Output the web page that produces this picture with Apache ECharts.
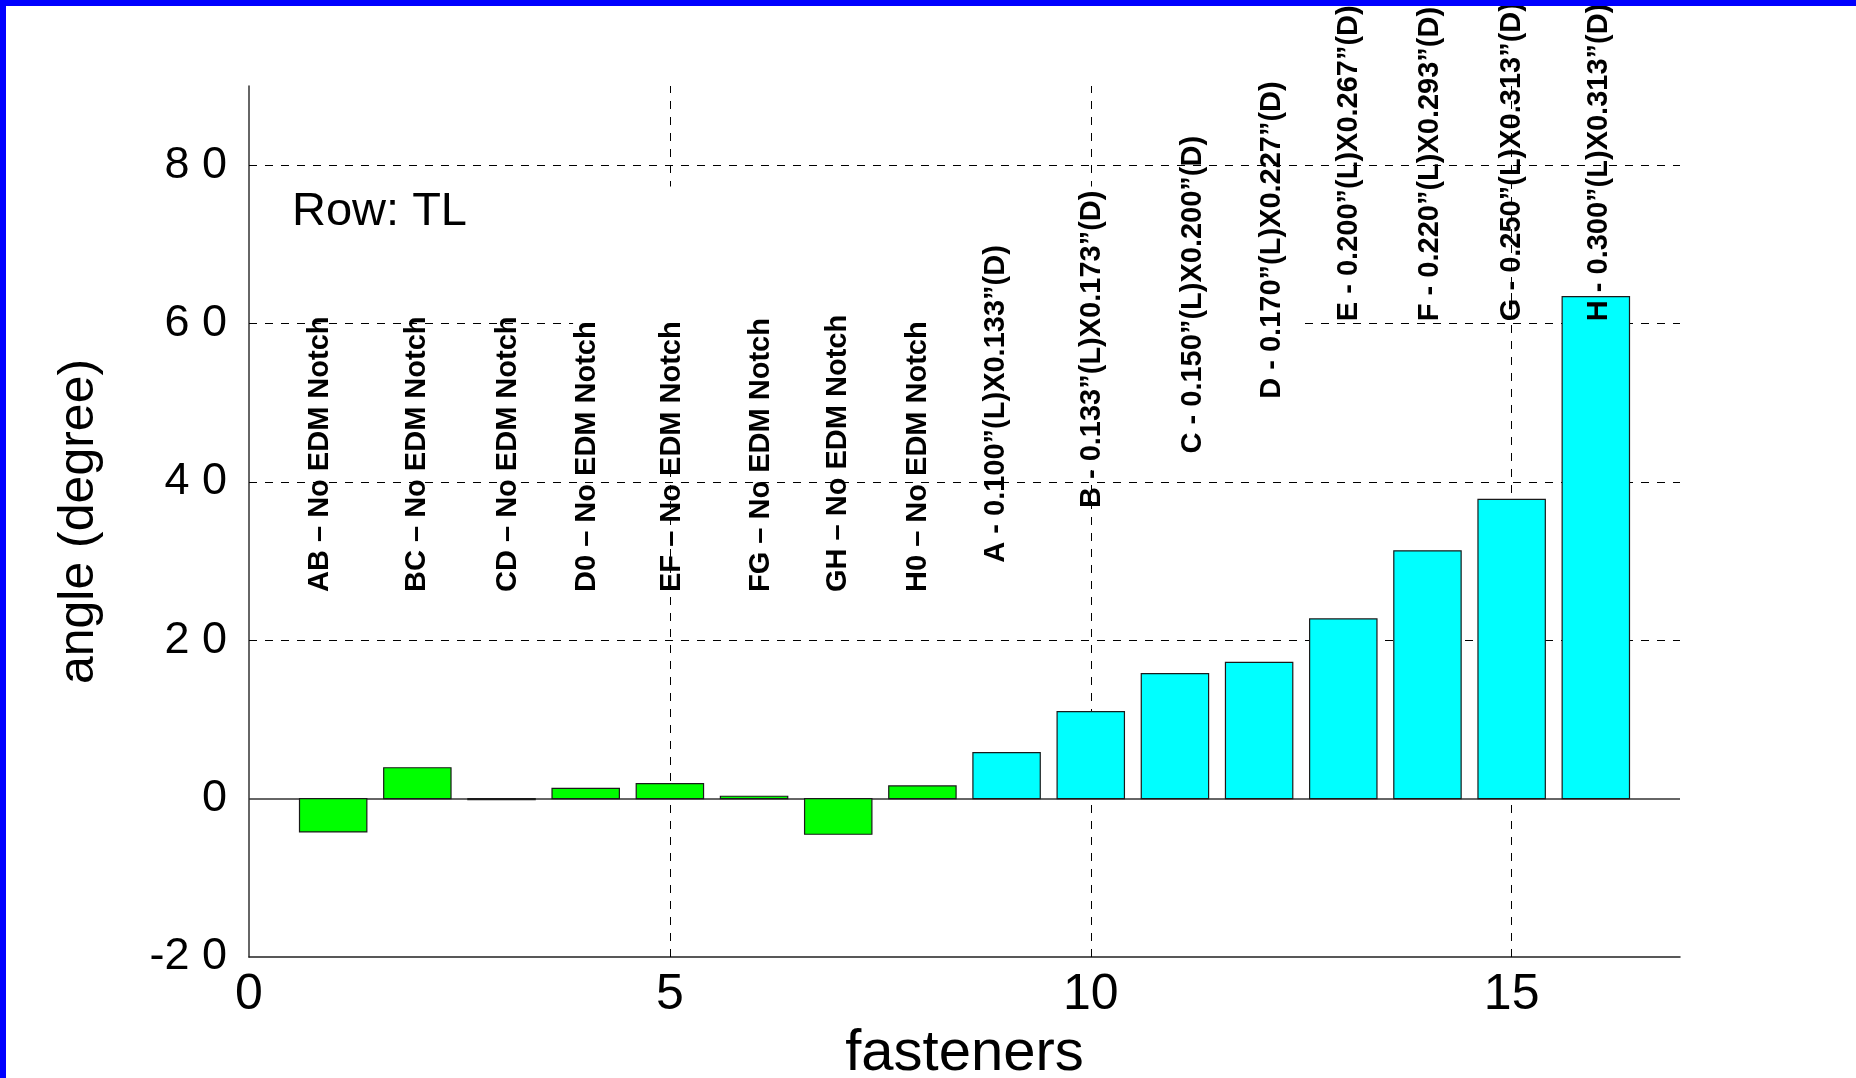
<!DOCTYPE html>
<html>
<head>
<meta charset="utf-8">
<script src="https://cdn.jsdelivr.net/npm/echarts@6/dist/echarts.min.js"></script>
<style>
html,body{margin:0;padding:0;background:#ffffff;}
#chart{width:1856px;height:1078px;}
</style>
</head>
<body>
<div id="chart"></div>
<script>
// ---------------- data ----------------
const fastenerX = [1, 2, 3, 4, 5, 6, 7, 8, 9, 10, 11, 12, 13, 14, 15, 16];
const angles = [-4.2, 3.9, -0.1, 1.3, 1.9, 0.3, -4.5, 1.6, 5.8, 11.0, 15.8, 17.2, 22.7, 31.3, 37.8, 63.4];
const notched = [0, 0, 0, 0, 0, 0, 0, 0, 1, 1, 1, 1, 1, 1, 1, 1];
const barLabels = [
  'AB \u2013 No EDM Notch', 'BC \u2013 No EDM Notch', 'CD \u2013 No EDM Notch', 'D0 \u2013 No EDM Notch',
  'EF \u2013 No EDM Notch', 'FG \u2013 No EDM Notch', 'GH \u2013 No EDM Notch', 'H0 \u2013 No EDM Notch',
  'A - 0.100\u201d(L)X0.133\u201d(D)', 'B - 0.133\u201d(L)X0.173\u201d(D)',
  'C - 0.150\u201d(L)X0.200\u201d(D)', 'D - 0.170\u201d(L)X0.227\u201d(D)',
  'E - 0.200\u201d(L)X0.267\u201d(D)', 'F - 0.220\u201d(L)X0.293\u201d(D)',
  'G - 0.250\u201d(L)X0.313\u201d(D)', 'H - 0.300\u201d(L)X0.313\u201d(D)'
];
// annotation anchors (data units: fastener, angle) where each label starts
const labelX = [0.84, 2.0, 3.08, 4.02, 5.02, 6.08, 7.0, 7.95, 8.88, 10.02, 11.21, 12.15, 13.07, 14.03, 15.0, 16.04];
const labelY = [26.1, 26.1, 26.1, 26.1, 26.1, 26.1, 26.1, 26.1, 29.8, 36.7, 43.6, 50.5, 60.3, 60.3, 60.3, 60.3];
const yGridValues = [20, 40, 60, 80];
const xGridValues = [5, 10, 15];
const rowText = 'Row: TL';

// ---------------- style ----------------
const GREEN = '#00ff00';
const CYAN = '#00ffff';
const BAR_W = 0.8;
const FONT = '"Liberation Sans", Arial, Helvetica, sans-serif';

const chart = echarts.init(document.getElementById('chart'), null, {renderer: 'canvas'});

const gridDash = {color: '#000', width: 1, type: [8, 8]};

const option = {
  backgroundColor: '#ffffff',
  animation: false,
  grid: {left: 249, right: 176, top: 86, bottom: 121, containLabel: false, outerBoundsMode: 'none'},
  xAxis: {
    type: 'value', min: 0, max: 17, interval: 5,
    name: 'fasteners', nameLocation: 'middle', nameGap: 62,
    nameTextStyle: {fontFamily: FONT, fontSize: 58, color: '#000'},
    axisLine: {onZero: false, lineStyle: {color: '#222', width: 1.5}},
    axisTick: {show: false},
    splitLine: {show: false},
    axisLabel: {showMaxLabel: false, margin: 13, fontFamily: FONT, fontSize: 50, color: '#000'}
  },
  yAxis: {
    type: 'value', min: -20, max: 90, interval: 20,
    name: 'angle (degree)', nameLocation: 'middle', nameGap: 145, nameRotate: 90,
    nameTextStyle: {fontFamily: FONT, fontSize: 50, color: '#000'},
    axisLine: {show: true, lineStyle: {color: '#333', width: 1.5}},
    axisTick: {show: false},
    splitLine: {show: false},
    axisLabel: {
      showMaxLabel: false, margin: 22, fontFamily: FONT, fontSize: 45, color: '#000',
      formatter: v => String(v).split('').join(' ').replace('- ', '-')
    }
  },
  graphic: [
    {type: 'text', left: 292, top: 189, z: 50,
     style: {text: rowText, fontFamily: FONT, fontSize: 47, fill: '#000'}},
    {type: 'rect', left: 0, top: 0, z: 100, shape: {width: 1856, height: 6}, style: {fill: '#0000ff'}},
    {type: 'rect', left: 0, top: 0, z: 100, shape: {width: 6, height: 1078}, style: {fill: '#0000ff'}}
  ],
  series: [
    {
      type: 'custom',
      name: 'angle',
      z: 3,
      encode: {x: 0, y: 1},
      data: fastenerX.map((x, i) => [x, angles[i], notched[i]]),
      renderItem: function (params, api) {
        const x = api.value(0), y = api.value(1);
        const p0 = api.coord([x - BAR_W / 2, Math.max(y, 0)]);
        const p1 = api.coord([x + BAR_W / 2, Math.min(y, 0)]);
        return {
          type: 'rect',
          shape: {x: p0[0], y: p0[1], width: p1[0] - p0[0], height: Math.max(p1[1] - p0[1], 1)},
          style: {fill: api.value(2) ? CYAN : GREEN, stroke: '#1a1a1a', lineWidth: 1.2}
        };
      },
      markLine: {
        z: 1, silent: true, symbol: 'none', animation: false,
        label: {show: false},
        lineStyle: gridDash,
        data: yGridValues.map(v => ({yAxis: v}))
          .concat(xGridValues.map(v => ({xAxis: v})))
          .concat([{yAxis: 0, lineStyle: {color: '#333', width: 1.5, type: 'solid'}}])
      },
      markArea: {
        z: 2, silent: true, animation: false,
        label: {show: false},
        itemStyle: {color: '#ffffff', opacity: 1},
        data: [[{coord: [3.85, 77.3]}, {coord: [12.46, 41.5]}]]
      }
    },
    {
      type: 'custom',
      name: 'labels',
      z: 4,
      silent: true,
      encode: {x: 0, y: 1},
      data: labelX.map((x, i) => [x, labelY[i]]),
      renderItem: function (params, api) {
        const p = api.coord([api.value(0), api.value(1)]);
        return {
          type: 'text',
          x: p[0], y: p[1],
          rotation: Math.PI / 2,
          style: {
            text: barLabels[params.dataIndex],
            fill: '#000',
            fontFamily: FONT, fontWeight: 'bold', fontSize: 29,
            align: 'left', verticalAlign: 'middle'
          }
        };
      }
    }
  ]
};

chart.setOption(option);
</script>
</body>
</html>
